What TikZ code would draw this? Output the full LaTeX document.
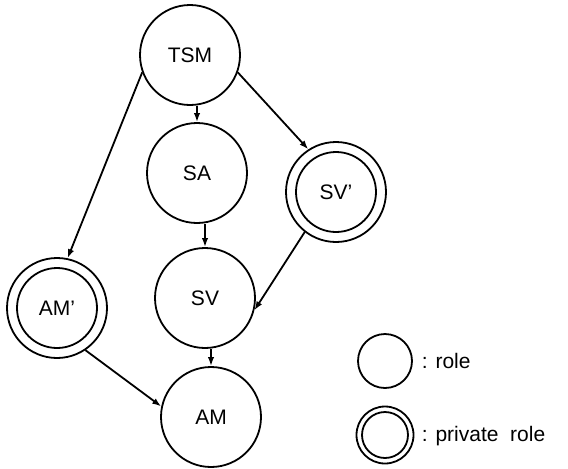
\documentclass[tikz,border=0pt]{standalone}
\usepackage{fontspec}
\setmainfont{Liberation Sans}
\usetikzlibrary{arrows.meta}
\begin{document}
\begin{tikzpicture}[x=0.5pt,y=-0.5pt,
  line width=0.9pt,
  role/.style={circle,draw,minimum size=50pt,inner sep=0pt,
    font=\fontsize{10.5}{12}\selectfont},
  arr/.style={-{Latex[length=4.5pt,width=3.2pt]}},
  legtext/.style={anchor=west,inner sep=0pt,font=\fontsize{10.5}{12}\selectfont}]
  \useasboundingbox (0,0) rectangle (568,468);

  % roles
  \node[role] (TSM) at (190,55)  {TSM};
  \node[role] (SA)  at (197,173) {SA};
  \node[role] (SVp) at (336,192) {SV'};
  \node[role] (SV)  at (205,298) {SV};
  \node[role] (AMp) at (57,308)  {AM'};
  \node[role] (AM)  at (211,417) {AM};

  % inner rings of the private roles
  \foreach \n in {SVp,AMp}
    \draw (\n.center) circle[radius=20pt];

  % dependencies
  \draw[arr] (SA.north |- TSM.south) -- (SA.north);
  \draw[arr] (TSM.200) -- (AMp.78);
  \draw[arr] (TSM.340) -- (SVp.123);
  \draw[arr] (SV.north |- SA.south) -- (SV.north);
  \draw[arr] (SVp.232) -- (SV.346);
  \draw[arr] (AM.north |- SV.south) -- (AM.north);
  \draw[arr] (AMp.304) -- (AM.168);

  % legend
  \node[circle,draw,minimum size=27pt,inner sep=0pt] (keyrole) at (385,361) {};
  \node[legtext] (keyroletext) at (421,361) {: role};
  \node[circle,draw,minimum size=28.5pt,inner sep=0pt] (keypriv) at (385,435) {};
  \draw (keypriv.center) circle[radius=11.5pt];
  \node[legtext] (keyprivtext) at (421,436) {: private\ \ role};
\end{tikzpicture}
\end{document}
